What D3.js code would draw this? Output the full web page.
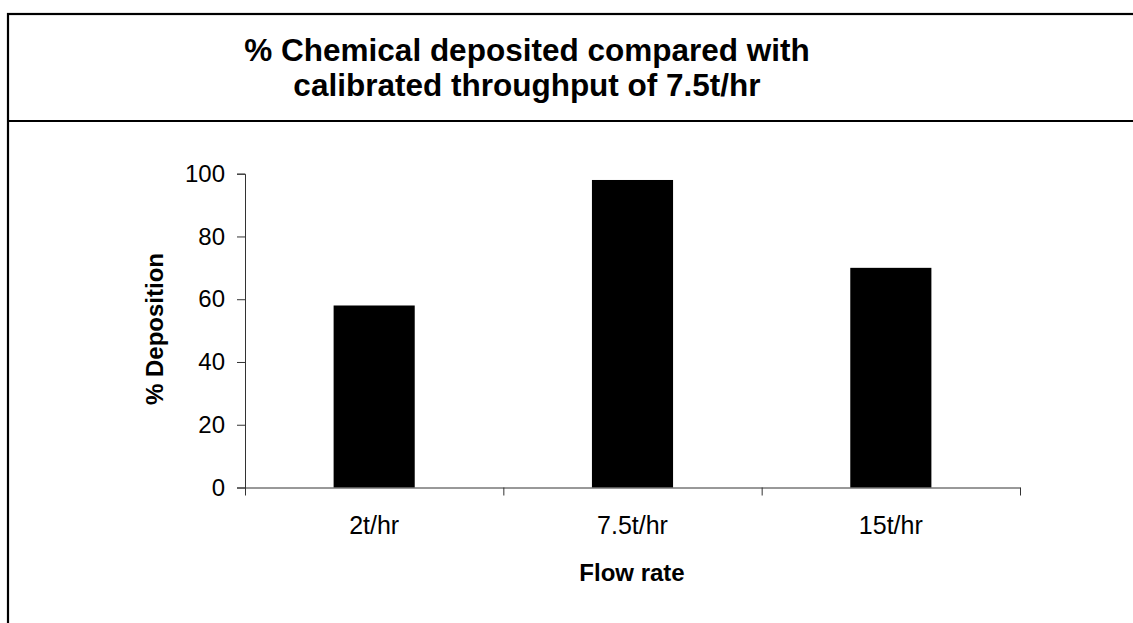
<!DOCTYPE html>
<html>
<head>
<meta charset="utf-8">
<script src="https://cdn.jsdelivr.net/npm/d3@7"></script>
<style>
body { margin: 0; background: #fff; }
text { font-family: "Liberation Sans", Arial, sans-serif; }
</style>
</head>
<body>
<svg id="chart" width="1133" height="623"></svg>
<script>
var categories = ['2t/hr', '7.5t/hr', '15t/hr']
var deposition = [58, 98, 70]
var yTicks = [0, 20, 40, 60, 80, 100]
var titleLines = ['% Chemical deposited compared with', 'calibrated throughput of 7.5t/hr']

var svg = d3.select('#chart')

// outer frame, runs off the right and bottom edge
svg.append('rect')
  .attr('x', 8).attr('y', 14)
  .attr('width', 1200).attr('height', 700)
  .attr('fill', 'none').attr('stroke', '#000').attr('stroke-width', 2.2)
svg.append('line')
  .attr('x1', 8).attr('x2', 1133).attr('y1', 121).attr('y2', 121)
  .attr('stroke', '#000').attr('stroke-width', 2.2)

// title
svg.selectAll('text.title')
  .data(titleLines)
  .enter().append('text')
  .attr('class', 'title')
  .attr('x', 527)
  .attr('y', function (d, i) { return 61 + i * 35 })
  .attr('text-anchor', 'middle')
  .attr('font-size', 31.5)
  .attr('font-weight', 'bold')
  .text(function (d) { return d })

var x = d3.scaleBand()
  .domain(categories)
  .range([245, 1020])
  .paddingInner(0.686)
  .paddingOuter(0.343)

var y = d3.scaleLinear()
  .domain([0, 100])
  .range([487.5, 173.7])

svg.selectAll('rect.bar')
  .data(deposition)
  .enter().append('rect')
  .attr('class', 'bar')
  .attr('x', function (d, i) { return x(categories[i]) })
  .attr('width', x.bandwidth())
  .attr('y', function (d) { return y(d) })
  .attr('height', function (d) { return y(0) - y(d) })
  .attr('fill', '#000')

// y axis
var yAxis = svg.append('g')
  .attr('transform', 'translate(245,0)')
  .call(d3.axisLeft(y).tickValues(yTicks).tickSize(8).tickPadding(12))
yAxis.select('.domain').attr('stroke', '#333')
yAxis.selectAll('.tick line').attr('stroke', '#333')
yAxis.selectAll('.tick text').attr('font-size', 24).attr('fill', '#000')
  .attr('font-family', '"Liberation Sans", Arial, sans-serif')

// x axis: ticks sit on band edges
var xEdge = d3.scaleLinear().domain([0, categories.length]).range([245, 1020])
var xAxis = svg.append('g')
  .attr('transform', 'translate(0,' + y(0) + ')')
  .call(d3.axisBottom(xEdge).tickValues(d3.range(categories.length + 1))
    .tickSize(8).tickSizeOuter(0).tickFormat(''))
xAxis.select('.domain').attr('stroke', '#333')
xAxis.selectAll('.tick line').attr('stroke', '#333')

svg.selectAll('text.cat')
  .data(categories)
  .enter().append('text')
  .attr('class', 'cat')
  .attr('x', function (d) { return x(d) + x.bandwidth() / 2 })
  .attr('y', 534)
  .attr('text-anchor', 'middle')
  .attr('font-size', 25)
  .text(function (d) { return d })

svg.append('text')
  .attr('x', 632).attr('y', 581)
  .attr('text-anchor', 'middle')
  .attr('font-size', 24).attr('font-weight', 'bold')
  .text('Flow rate')

svg.append('text')
  .attr('transform', 'translate(163,329) rotate(-90)')
  .attr('text-anchor', 'middle')
  .attr('font-size', 24).attr('font-weight', 'bold')
  .text('% Deposition')
</script>
</body>
</html>
